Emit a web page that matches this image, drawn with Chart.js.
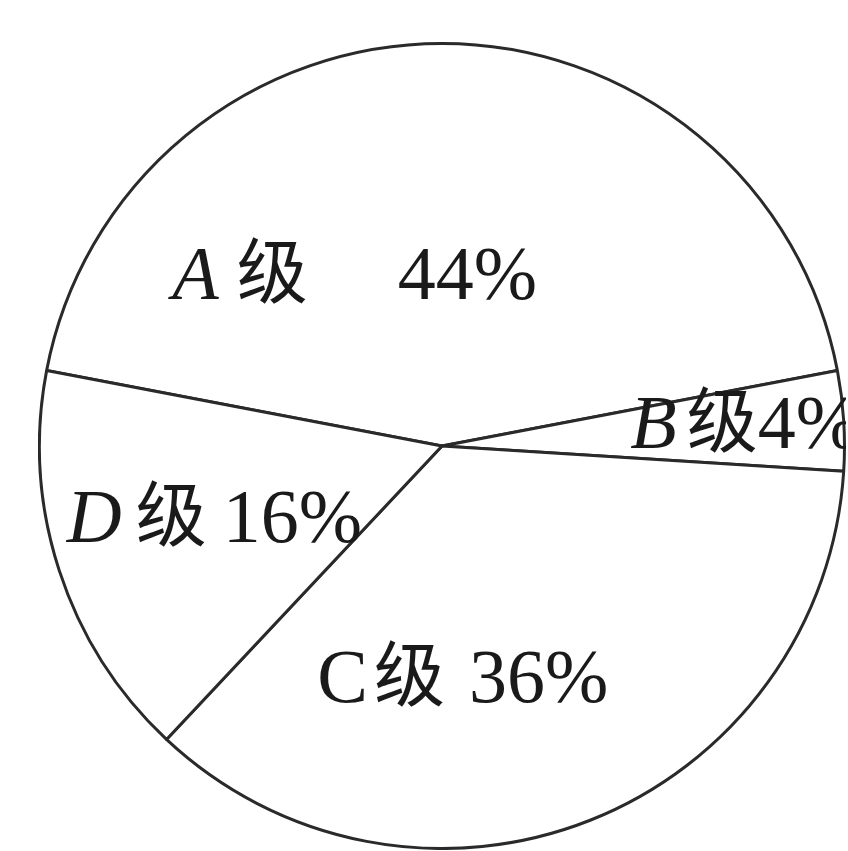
<!DOCTYPE html>
<html>
<head>
<meta charset="utf-8">
<script src="https://cdn.jsdelivr.net/npm/chart.js@4.4.1/dist/chart.umd.min.js"></script>
<style>
  html, body { margin: 0; padding: 0; background: #fff; overflow: hidden; }
  #wrap { position: absolute; left: 38px; top: 42px; width: 808px; height: 808px; }
</style>
</head>
<body>
<div id="wrap"><canvas id="pie"></canvas></div>
<script>
// grades and their share of the total
const grades = ['A', 'B', 'C', 'D'];
const percents = [44, 4, 36, 16];
const gradeWord = '级';

// label layout: anchor (fraction of radius from centre), gaps in px, letter italic?
const labelAnchor = [[-0.67, -0.366], [0.468, 0.005], [-0.31, 0.637], [-0.932, 0.239]];
const labelGaps = [[18, 90], [10, 0], [6, 24], [14, 16]];
const letterItalic = [true, true, false, true];

const fontSize = 76;
const serif = '"Liberation Serif", "DejaVu Serif", serif';
const cjk = '"Noto Sans CJK SC", sans-serif';

// draws "X级 nn%" inside each slice
const sliceLabels = {
  id: 'sliceLabels',
  afterDraw(chart) {
    const arc = chart.getDatasetMeta(0).data[0];
    const cx = arc.x, cy = arc.y, r = arc.outerRadius;
    const ctx = chart.ctx;
    ctx.save();
    ctx.fillStyle = '#1a1a1a';
    ctx.textBaseline = 'alphabetic';
    ctx.textAlign = 'left';
    grades.forEach((g, i) => {
      let x = cx + labelAnchor[i][0] * r;
      const y = cy + labelAnchor[i][1] * r;
      ctx.font = (letterItalic[i] ? 'italic ' : '') + fontSize + 'px ' + serif;
      ctx.fillText(g, x, y);
      x += ctx.measureText(g).width + labelGaps[i][0];
      ctx.font = (fontSize - 5) + 'px ' + cjk;
      ctx.fillText(gradeWord, x, y - 2);
      x += ctx.measureText(gradeWord).width + labelGaps[i][1];
      ctx.font = fontSize + 'px ' + serif;
      ctx.fillText(percents[i] + '%', x, y);
    });
    ctx.restore();
  }
};

new Chart(document.getElementById('pie'), {
  type: 'pie',
  data: {
    labels: grades.map(g => g + gradeWord),
    datasets: [{
      data: percents,
      backgroundColor: '#ffffff',
      borderColor: '#2a2a2a',
      borderWidth: 3
    }]
  },
  options: {
    responsive: true,
    maintainAspectRatio: false,
    animation: false,
    rotation: -79.2,
    layout: { padding: 0 },
    plugins: {
      legend: { display: false },
      tooltip: { enabled: false }
    }
  },
  plugins: [sliceLabels]
});
</script>
</body>
</html>
